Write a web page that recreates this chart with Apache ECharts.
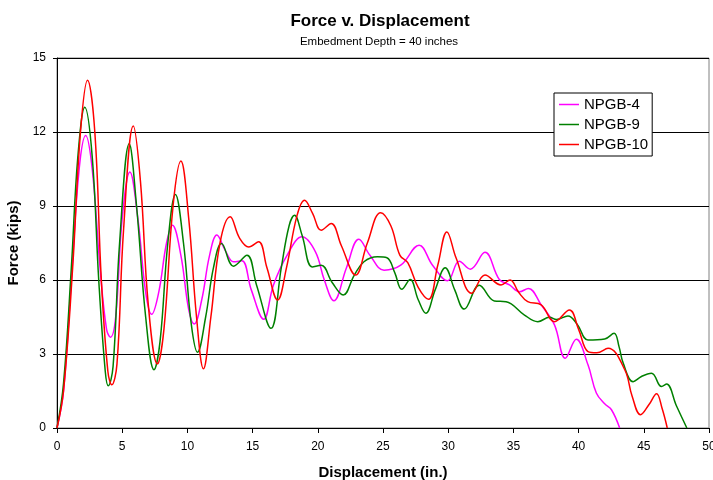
<!DOCTYPE html>
<html>
<head>
<meta charset="utf-8">
<script src="https://cdn.jsdelivr.net/npm/echarts@6/dist/echarts.min.js"></script>
<style>html,body{margin:0;padding:0;background:#fff}#c{width:713px;height:480px}</style>
</head>
<body>
<div id="c"></div>
<script>
var xTicks = [0,5,10,15,20,25,30,35,40,45,50];
var yTicks = [0,3,6,9,12,15];
var seriesNames = ['NPGB-4','NPGB-9','NPGB-10'];

var dispNPGB4 = [0,0.5,1.1,1.7,2.2,2.7,3.3,3.8,4.1,4.5,5.0,5.59,6.2,6.8,7.26,7.8,8.4,8.85,9.5,10.1,10.52,11.1,11.7,12.26,12.9,13.54,14.18,14.9,15.85,16.6,17.64,18.8,19.82,20.5,21.23,22.2,23.15,24.0,25.08,26.36,27.77,28.8,29.95,30.85,31.7,32.82,33.92,34.7,35.46,36.15,37.13,38.15,38.98,39.82,40.72,41.36,42.0,42.52,43.15];
var forceNPGB4 = [0,1.5,6,10.5,11.86,10.5,6.5,4.0,3.68,4.5,8.5,10.38,8.5,5.5,4.61,5.5,7.5,8.22,7,4.8,4.22,5.2,7,7.82,7.2,6.74,6.78,5.6,4.41,5.8,7.0,7.75,7.14,6.0,5.16,6.5,7.65,7.0,6.4,6.6,7.41,6.6,5.97,6.76,6.44,7.12,6.02,5.8,5.52,5.66,4.99,4.18,2.83,3.6,2.56,1.42,0.98,0.74,0];

var dispNPGB9 = [0,0.5,1.1,1.6,2.13,2.7,3.2,3.7,3.93,4.3,4.8,5.54,6.1,6.8,7.44,7.9,8.5,9.08,9.7,10.3,10.77,11.4,12.0,12.62,13.54,14.57,15.3,16.41,17.2,17.8,18.21,18.8,19.57,20.26,21.1,21.95,22.8,23.54,24.57,25.3,25.9,26.44,27.08,27.7,28.28,29.0,29.77,30.5,31.23,32.38,33.54,34.44,35.85,36.87,37.77,38.3,39.18,39.9,40.72,42.0,42.72,43.1,43.42,44.18,44.82,45.59,46.36,46.75,47.5,48.3];
var forceNPGB9 = [0,1.8,6.5,11,13.0,11,6,2.3,1.71,2.5,7.5,11.52,9,4.5,2.36,3.5,7.5,9.47,7.5,4.2,3.07,4.5,6.5,7.48,6.56,7.0,5.8,4.04,6.5,8.2,8.62,7.8,6.53,6.6,5.9,5.39,6.2,6.74,6.94,6.9,6.3,5.62,6.02,5.2,4.65,5.6,6.5,5.6,4.82,5.79,5.15,5.12,4.58,4.31,4.49,4.4,4.54,4.2,3.57,3.61,3.84,3.3,2.63,1.88,2.09,2.22,1.68,1.78,0.9,0];

var dispNPGB10 = [0,0.5,1.2,1.8,2.34,2.9,3.4,3.9,4.2,4.6,5.1,5.85,6.4,7.0,7.7,8.2,8.9,9.5,10.1,10.7,11.23,11.8,12.5,13.28,14.0,14.7,15.46,16.1,16.92,17.6,18.4,18.98,19.6,20.26,21.03,21.8,22.9,23.8,24.82,25.6,26.3,26.9,27.7,28.49,29.2,29.9,30.6,31.8,32.82,34.05,34.75,35.4,36.1,37.13,38.15,39.3,40.0,40.72,41.4,42.26,43.54,44.1,44.75,45.4,45.98,46.4,46.8];
var forceNPGB10 = [0,1.5,6.5,12,14.1,12,6,2.3,1.75,2.6,8,12.24,10,5,2.6,4,9,10.82,8.5,4.5,2.4,4.5,7.5,8.56,7.7,7.34,7.55,6.5,5.19,6.5,8.6,9.23,8.7,8.02,8.29,7.4,6.2,7.5,8.73,8.2,7.0,6.7,5.7,5.22,6.6,7.95,6.9,5.46,6.2,5.8,6.0,5.5,5.12,4.99,4.31,4.78,4.0,3.1,3.05,3.23,2.36,1.3,0.54,0.95,1.39,0.8,0];

function pairs(xs, ys){ return xs.map(function(x,i){ return [x, ys[i]]; }); }

var colors = ['#FF00FF','#008000','#FF0000'];
var font = '"Liberation Sans", Arial, sans-serif';

var chart = echarts.init(document.getElementById('c'), null, {renderer:'canvas'});
chart.setOption({
  animation: false,
  backgroundColor: '#fff',
  textStyle: {fontFamily: font, color: '#000'},
  title: [
    {text: 'Force v. Displacement', left: 375, top: 8, textAlign: 'center',
     textStyle: {fontFamily: font, fontSize: 17, fontWeight: 'bold', color: '#000'}},
    {text: 'Embedment Depth = 40 inches', left: 374, top: 31, textAlign: 'center',
     textStyle: {fontFamily: font, fontSize: 11.5, fontWeight: 'normal', color: '#000'}}
  ],
  legend: {
    orient: 'vertical', left: 554, top: 93,
    padding: [4, 4, 4, 5], itemGap: 5,
    itemWidth: 20, itemHeight: 1.5, icon: 'rect',
    backgroundColor: '#fff', borderColor: '#000', borderWidth: 1,
    textStyle: {fontFamily: font, fontSize: 15, color: '#000', padding: [0,0,0,0]},
    data: seriesNames
  },
  grid: {left: 57, right: 4, top: 58, bottom: 52, containLabel: false, outerBoundsMode: 'none',
         show: true, borderColor: '#808080', borderWidth: 1, backgroundColor: 'transparent'},
  xAxis: {
    type: 'value', min: 0, max: 50, interval: 5,
    name: 'Displacement (in.)', nameLocation: 'middle', nameGap: 37,
    nameTextStyle: {fontFamily: font, fontSize: 15, fontWeight: 'bold', color: '#000'},
    axisLine: {show: true, lineStyle: {color: '#000', width: 1}},
    axisTick: {show: true, inside: false, length: 5, lineStyle: {color: '#000'}},
    axisLabel: {fontFamily: font, fontSize: 12, color: '#000', margin: 13,
      formatter: function(v){ return xTicks.indexOf(v) >= 0 ? String(v) : ''; }},
    splitLine: {show: false}
  },
  yAxis: {
    type: 'value', min: 0, max: 15, interval: 3,
    name: 'Force (kips)', nameLocation: 'middle', nameGap: 29, nameRotate: 90,
    nameTextStyle: {fontFamily: font, fontSize: 15, fontWeight: 'bold', color: '#000'},
    axisLine: {show: true, lineStyle: {color: '#000', width: 1}},
    axisTick: {show: true, inside: false, length: 4, lineStyle: {color: '#000'}},
    axisLabel: {fontFamily: font, fontSize: 12, color: '#000', margin: 11,
      formatter: function(v){ return yTicks.indexOf(v) >= 0 ? String(v) : ''; }},
    splitLine: {show: true, lineStyle: {color: '#000', width: 1}}
  },
  series: [
    {name: seriesNames[0], type: 'line', data: pairs(dispNPGB4, forceNPGB4), smooth: 0.4,
     showSymbol: false, lineStyle: {color: colors[0], width: 1.5}, itemStyle: {color: colors[0]}, z: 3},
    {name: seriesNames[1], type: 'line', data: pairs(dispNPGB9, forceNPGB9), smooth: 0.4,
     showSymbol: false, lineStyle: {color: colors[1], width: 1.5}, itemStyle: {color: colors[1]}, z: 4},
    {name: seriesNames[2], type: 'line', data: pairs(dispNPGB10, forceNPGB10), smooth: 0.4,
     showSymbol: false, lineStyle: {color: colors[2], width: 1.5}, itemStyle: {color: colors[2]}, z: 5}
  ]
});
</script>
</body>
</html>
